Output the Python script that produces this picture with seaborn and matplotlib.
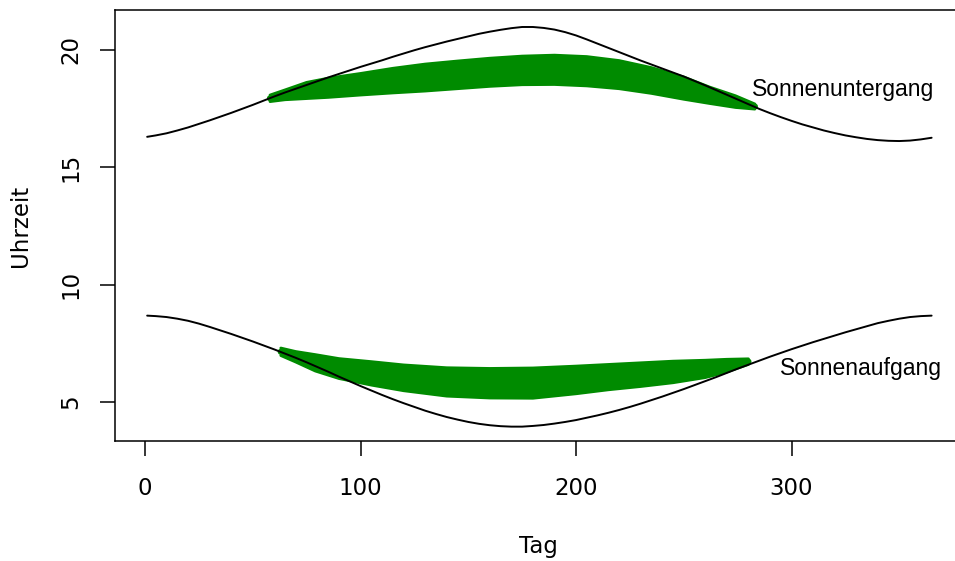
import numpy as np
import pandas as pd
import matplotlib
matplotlib.use('Agg')
import matplotlib.pyplot as plt
import seaborn as sns

# Sonnenauf-/untergang (Kurven) und beobachtete Zeiten (gruene Baender)
tage = [1] + list(range(5, 366, 5))
untergang = [16.30, 16.36, 16.45, 16.57, 16.70, 16.85, 17.00, 17.16, 17.32, 17.49, 17.66, 17.84,
             18.02, 18.19, 18.35, 18.51, 18.67, 18.83, 18.98, 19.13, 19.28, 19.42, 19.56, 19.71,
             19.85, 19.99, 20.12, 20.24, 20.36, 20.47, 20.58, 20.69, 20.78, 20.86, 20.93, 20.98,
             20.98, 20.94, 20.87, 20.76, 20.62, 20.45, 20.27, 20.09, 19.91, 19.73, 19.55, 19.38,
             19.21, 19.04, 18.87, 18.68, 18.49, 18.29, 18.09, 17.89, 17.69, 17.49, 17.31, 17.14,
             16.98, 16.83, 16.70, 16.57, 16.46, 16.36, 16.28, 16.21, 16.16, 16.13, 16.12, 16.14,
             16.19, 16.26]
aufgang = [8.68, 8.66, 8.62, 8.55, 8.46, 8.34, 8.20, 8.05, 7.90, 7.74, 7.58, 7.41, 7.24, 7.06,
           6.88, 6.69, 6.49, 6.29, 6.08, 5.88, 5.68, 5.49, 5.30, 5.12, 4.95, 4.79, 4.63, 4.49,
           4.36, 4.25, 4.15, 4.07, 4.01, 3.97, 3.95, 3.95, 3.98, 4.02, 4.08, 4.15, 4.23, 4.33,
           4.43, 4.54, 4.66, 4.79, 4.93, 5.08, 5.23, 5.39, 5.55, 5.72, 5.89, 6.06, 6.24, 6.42,
           6.59, 6.76, 6.93, 7.09, 7.25, 7.40, 7.55, 7.69, 7.83, 7.97, 8.10, 8.23, 8.36, 8.46,
           8.55, 8.62, 8.66, 8.68]

tage_ab = [58, 65, 75, 85, 100, 115, 130, 145, 160, 175, 190, 205, 220, 235, 250, 262, 274, 283]
abend_oben = [18.08, 18.30, 18.62, 18.80, 19.00, 19.22, 19.40, 19.53, 19.65, 19.74, 19.78, 19.72,
              19.55, 19.25, 18.85, 18.42, 18.05, 17.70]
abend_unten = [17.80, 17.88, 17.93, 17.98, 18.08, 18.17, 18.25, 18.35, 18.45, 18.52, 18.53, 18.47,
               18.35, 18.15, 17.90, 17.72, 17.55, 17.48]

tage_mo = [63, 70, 79, 90, 105, 120, 140, 160, 180, 200, 215, 230, 245, 260, 270, 280]
morgen_oben = [7.30, 7.15, 7.02, 6.85, 6.72, 6.58, 6.46, 6.43, 6.45, 6.53, 6.60, 6.67, 6.74, 6.78,
               6.82, 6.84]
morgen_unten = [6.98, 6.70, 6.32, 6.00, 5.72, 5.48, 5.25, 5.17, 5.16, 5.35, 5.52, 5.66, 5.82, 6.04,
                6.28, 6.60]

sns.set_style('ticks')
plt.rcParams['font.family'] = ['DejaVu Sans']
for k in ['text.color', 'axes.labelcolor', 'xtick.color', 'ytick.color', 'axes.edgecolor']:
    plt.rcParams[k] = 'black'

gruen = '#008b00'
fig = plt.figure(figsize=(9.55, 5.61), dpi=100)
ax = fig.add_axes([115 / 955, 120 / 561, 847 / 955, 431 / 561])

for d, o, u in [(tage_ab, abend_oben, abend_unten), (tage_mo, morgen_oben, morgen_unten)]:
    o = np.array(o)
    u = np.array(u)
    ax.fill_between(d, u, o, color=gruen, lw=0)
    ax.plot(d, o, color=gruen, lw=2, solid_capstyle='round', solid_joinstyle='round')
    ax.plot(d, u, color=gruen, lw=2, solid_capstyle='round', solid_joinstyle='round')
    ax.plot(d, (o + u) / 2, color=gruen, lw=4.5, solid_capstyle='round')

df = pd.DataFrame({'Tag': tage, 'unter': untergang, 'auf': aufgang})
sns.lineplot(data=df, x='Tag', y='unter', color='black', lw=1.4, ax=ax)
sns.lineplot(data=df, x='Tag', y='auf', color='black', lw=1.4, ax=ax)

ax.text(324, 18.05, 'Sonnenuntergang', ha='center', va='baseline',
        family=['Liberation Sans', 'DejaVu Sans'], fontsize=16.5)
ax.text(332, 6.15, 'Sonnenaufgang', ha='center', va='baseline',
        family=['Liberation Sans', 'DejaVu Sans'], fontsize=16.5)

ax.set_xlim(-13.92, 379.1)
ax.set_ylim(3.338, 21.704)
ax.set_xticks([0, 100, 200, 300])
ax.set_yticks([5, 10, 15, 20])
ax.tick_params(axis='both', length=10.8, width=1.1, labelsize=16.5, color='black')
ax.tick_params(axis='x', pad=15)
ax.tick_params(axis='y', pad=13, labelrotation=90)
for lab in ax.get_yticklabels():
    lab.set_va('center')

for s in ['left', 'top', 'bottom', 'right']:
    ax.spines[s].set_linewidth(1.1)
    ax.spines[s].set_color('black')

ax.set_xlabel('Tag', fontsize=16.5)
ax.set_ylabel('Uhrzeit', fontsize=16.5)
ax.xaxis.label.set_va('baseline')
ax.xaxis.set_label_coords(0.5, (441 - 553) / 431)
ax.yaxis.label.set_va('center')
ax.yaxis.set_label_coords((21 - 115) / 847, 0.5)

fig.savefig('out.png', dpi=100)
